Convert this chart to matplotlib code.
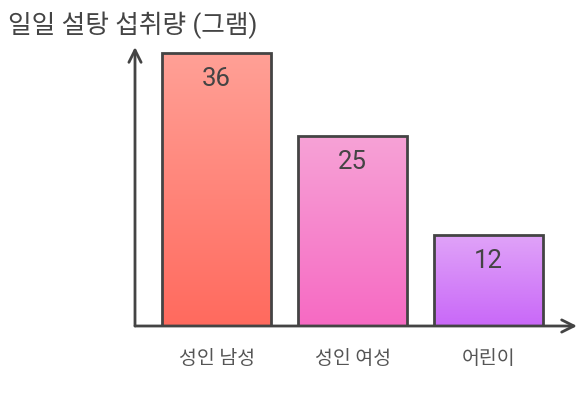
import numpy as np
import matplotlib.pyplot as plt
from matplotlib.colors import LinearSegmentedColormap

# Data
categories = ['성인 남성', '성인 여성', '어린이']
values = [36, 25, 12]
top_colors = ['#FFA096', '#F7A2D6', '#E0A3F8']
bottom_colors = ['#FF6A5E', '#F66AC3', '#C968F8']

plt.rcParams['font.family'] = ['Roboto', 'Noto Sans CJK KR', 'DejaVu Sans']

fig = plt.figure(figsize=(5.85, 4.02), dpi=100)
ax = fig.add_axes([135 / 585, 75 / 402, 442 / 585, 279 / 402])
ax.set_xlim(-0.6, 2.65)
ax.set_ylim(0, 36.8)
ax.axis('off')

edge = '#444444'
width = 0.8
for i, (v, c1, c2) in enumerate(zip(values, top_colors, bottom_colors)):
    cmap = LinearSegmentedColormap.from_list('g%d' % i, [c2, c1])
    grad = np.linspace(0, 1, 256).reshape(-1, 1)
    im = ax.imshow(grad, cmap=cmap, origin='lower', aspect='auto',
                   extent=(i - width / 2, i + width / 2, 0, v), zorder=1)
    bar = ax.bar(i, v, width=width, facecolor='none', edgecolor=edge,
                 linewidth=2, zorder=2)[0]
    im.set_clip_path(bar)
    ax.text(i, v - 3.3, str(v), ha='center', va='center', fontsize=18.5,
            color='#444444', zorder=3)
    ax.text(i, -4.2, categories[i], ha='center', va='center', fontsize=14,
            color='#555555', fontweight='light')

# Axes with arrows
arrow = dict(arrowstyle='->', color=edge, lw=2, mutation_scale=22,
             shrinkA=0, shrinkB=0)
ax.annotate('', xy=(0, 1), xytext=(0, 0), xycoords='axes fraction',
            arrowprops=arrow, zorder=4)
ax.annotate('', xy=(1, 0), xytext=(0, 0), xycoords='axes fraction',
            arrowprops=arrow, zorder=4)

fig.text(8 / 585, 1 - 25 / 402, '일일 설탕 섭취량 (그램)', ha='left', va='center',
         fontsize=18.5, color='#444444')

fig.savefig('out.png', dpi=100)
